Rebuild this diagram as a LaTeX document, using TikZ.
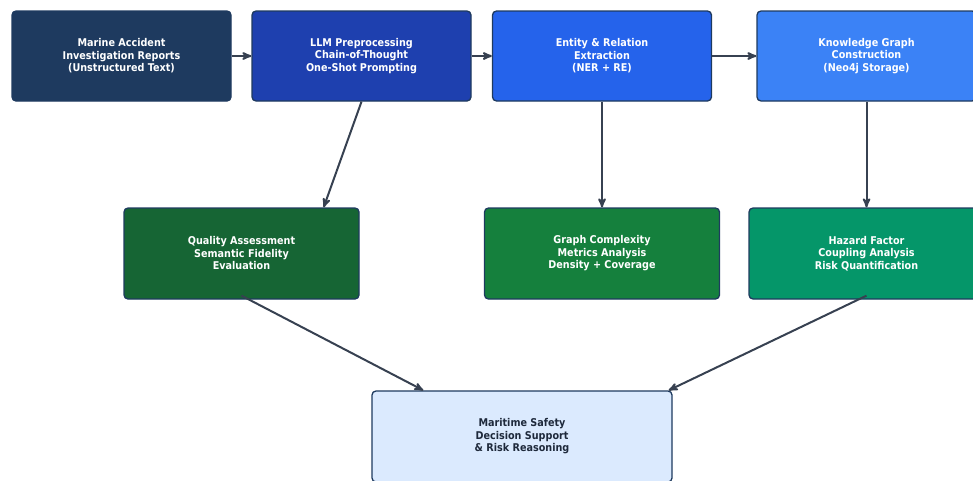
\documentclass[tikz,border=0pt]{standalone}
\usepackage{fontspec}
\setmainfont{DejaVu Sans}[FakeStretch=0.9]
\usetikzlibrary{arrows,positioning}

\definecolor{navy}{HTML}{1E3A5F}
\definecolor{royal}{HTML}{1E40AF}
\definecolor{bright}{HTML}{2563EB}
\definecolor{sky}{HTML}{3B82F6}
\definecolor{forest}{HTML}{166534}
\definecolor{grass}{HTML}{15803D}
\definecolor{emerald}{HTML}{059669}
\definecolor{pale}{HTML}{DBEAFE}
\definecolor{ink}{HTML}{1E293B}
\definecolor{wire}{HTML}{374151}

\begin{document}
\begin{tikzpicture}[x=1pt,y=-1pt,->,>=stealth',auto,node distance=240pt,
                    line width=2pt]
  \tikzstyle{every stage}=[draw=navy,line width=1.3pt,rounded corners=4pt,
    text=white,align=center,font=\bfseries\fontsize{10.7}{12.5}\selectfont]
  \tikzstyle{top stage}=[every stage,minimum width=219pt,minimum height=90pt]
  \tikzstyle{mid stage}=[every stage,minimum width=235pt,minimum height=91pt]
  \tikzstyle{flow}=[draw=wire]

  \useasboundingbox (0,0) rectangle (973,480);
  \clip (0,0) rectangle (973,480);

  \node[top stage,fill=navy]     (A)  at (121.5,56)        {Marine Accident\\Investigation Reports\\(Unstructured Text)};
  \node[top stage,fill=royal]    (B)  [right of=A]         {LLM Preprocessing\\Chain-of-Thought\\One-Shot Prompting};
  \node[top stage,fill=bright]   (C)  [right of=B,node distance=240.5pt] {Entity \& Relation\\Extraction\\(NER + RE)};
  \node[top stage,fill=sky]      (D)  [right of=C,node distance=264.5pt] {Knowledge Graph\\Construction\\(Neo4j Storage)};
  \node[mid stage,fill=forest]   (Q)  at (241.5,253.5)     {Quality Assessment\\Semantic Fidelity\\Evaluation};
  \node[mid stage,fill=grass]    (G)  [below of=C,node distance=197.5pt] {Graph Complexity\\Metrics Analysis\\Density + Coverage};
  \node[mid stage,fill=emerald]  (H)  [below of=D,node distance=197.5pt] {Hazard Factor\\Coupling Analysis\\Risk Quantification};
  \node[every stage,fill=pale,text=ink,minimum width=300pt,minimum height=91pt]
                                 (M)  at (522,436.5)       {Maritime Safety\\Decision Support\\\& Risk Reasoning};

  \path (A.east) edge[flow] (B.west);
  \path (B.east) edge[flow] (C.west);
  \path (C.east) edge[flow] (D.west);
  \path (B.south) edge[flow] ([xshift=-36pt]Q.north east);
  \path (C.south) edge[flow] (G.north);
  \path (D.south) edge[flow] (H.north);
  \path ([yshift=4pt]Q.south) edge[flow] ([xshift=52pt]M.north west);
  \path ([yshift=4pt]H.south) edge[flow] ([xshift=-4pt]M.north east);

\end{tikzpicture}
\end{document}
